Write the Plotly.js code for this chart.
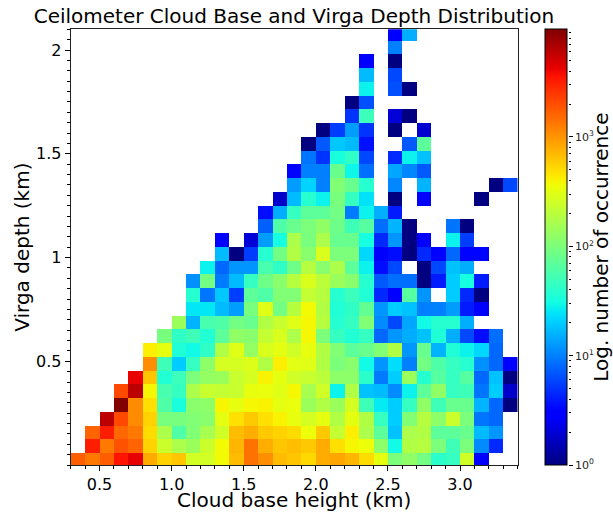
<!DOCTYPE html>
<html><head><meta charset="utf-8">
<script src="https://cdn.plot.ly/plotly-3.0.1.min.js"></script>
<style>html,body{margin:0;padding:0;background:#fff}</style></head>
<body><div id="chart" style="width:613px;height:512px"></div>
<script>
const _ = null;
const cloudBaseEdges = [0.3,0.4,0.5,0.6,0.7,0.8,0.9,1.0,1.1,1.2,1.3,1.4,1.5,1.6,1.7,1.8,1.9,2.0,2.1,2.2,2.3,2.4,2.5,2.6,2.7,2.8,2.9,3.0,3.1,3.2,3.3,3.4];
const virgaDepthEdges = [-0.0096,0.0567,0.123,0.1893,0.2556,0.3219,0.3882,0.4545,0.5208,0.5871,0.6534,0.7197,0.786,0.8523,0.9186,0.9849,1.0512,1.1175,1.1838,1.2501,1.3164,1.3827,1.449,1.5153,1.5816,1.6479,1.7142,1.7805,1.8468,1.9131,1.9794,2.0457,2.112];
const xTickVals = [0.5,1,1.5,2,2.5,3];
const xTickText = ["0.5","1.0","1.5","2.0","2.5","3.0"];
const yTickVals = [0.5,1,1.5,2];
const yTickText = ["0.5","1","1.5","2"];
const cbTickVals = [1,10,100,1000];
const cbTickText = ["10<sup>0</sup>","10<sup>1</sup>","10<sup>2</sup>","10<sup>3</sup>"];
const cbMinorVals = [2,3,4,5,6,7,8,9,20,30,40,50,60,70,80,90,200,300,400,500,600,700,800,900,2000,3000,4000,5000,6000,7000,8000,9000];
// counts per row, bottom row first; each row has one value per cloud-base bin
const counts = [
[1700,1300,1700,3500,4300,800,550,620,260,260,370,680,1400,1050,680,620,520,800,850,720,500,320,100,125,90,40,45,250,2.8,_,_],
[_,3200,1300,1900,1600,550,240,170,140,240,370,720,1400,780,620,660,600,800,480,380,350,120,30,180,190,100,50,100,11,4.5,_],
[_,1600,3200,1550,1300,500,170,60,105,160,250,680,780,600,550,500,350,600,220,420,170,70,18,170,180,70,70,80,17,12,_],
[_,_,6000,2100,1100,550,95,95,105,115,320,480,600,480,400,330,270,320,180,320,180,45,20,105,190,120,240,100,9,8,_],
[_,_,_,9600,1100,480,60,33,115,120,390,330,380,400,320,340,140,180,140,270,50,26,20,45,125,50,80,80,16,8,1],
[_,_,_,2100,6000,380,55,45,170,230,220,230,330,340,300,380,160,250,28,180,18,17,11,28,70,125,45,50,9,20,1.8],
[_,_,_,_,4200,620,36,48,100,130,140,230,270,400,320,250,230,200,120,120,40,9.5,20,140,38,65,45,65,8,18,1],
[_,_,_,_,_,1050,50,20,45,120,270,270,290,180,420,310,300,180,100,115,30,12,23,10,90,60,45,38,11.5,8,2.8],
[_,_,_,_,_,410,320,35,30,42,180,300,130,280,320,250,330,180,105,70,80,105,180,12,80,16,35,28,22,8,_],
[_,_,_,_,_,_,95,42,50,36,70,125,115,220,280,170,380,100,45,36,45,8,12,15,18,35,15,6,3.5,8.5,_],
[_,_,_,_,_,_,_,140,16,55,60,90,80,180,230,300,380,190,38,45,105,11,6,14,30,38,38,15,_,_,_],
[_,_,_,_,_,_,_,_,25,25,17,13,95,300,90,190,370,180,36,42,75,12,20,18,10,10,13,4,2.8,_,_],
[_,_,_,_,_,_,_,_,38,9,19,5.5,70,60,105,105,220,190,38,48,36,4.5,3,65,12,_,20,4.5,1,_,_],
[_,_,_,_,_,_,_,_,11.5,90,9.5,17,45,85,115,190,280,200,140,115,38,7,8.5,8.5,1,4,20,32,4,_,_],
[_,_,_,_,_,_,_,_,_,28,8,12,12,55,42,85,190,115,170,70,28,3.5,6,_,1,6,18,15,_,_,_],
[_,_,_,_,_,_,_,_,_,_,17,1,5.5,38,90,180,115,280,100,100,22,2.8,3.5,1,4.5,3.2,8,3.2,3.2,_,_],
[_,_,_,_,_,_,_,_,_,_,2.8,_,2,13,32,170,95,170,80,80,32,4.5,12,1,2.8,_,28,5.5,_,_,_],
[_,_,_,_,_,_,_,_,_,_,_,_,_,7.5,60,80,100,125,85,50,65,8.5,16,1,_,_,9,1,_,_,_],
[_,_,_,_,_,_,_,_,_,_,_,_,_,3.5,15,45,70,70,90,9.5,28,15,4,_,_,_,_,_,_,_,_],
[_,_,_,_,_,_,_,_,_,_,_,_,_,_,1.8,17,38,28,95,45,24,_,1,_,2.8,_,_,_,1,_,_],
[_,_,_,_,_,_,_,_,_,_,_,_,_,_,_,13,21,10,105,80,38,_,10.5,_,16,_,_,_,_,1,6],
[_,_,_,_,_,_,_,_,_,_,_,_,_,_,_,2.8,10,10,80,29,8.5,_,14,10.5,7,_,_,_,_,_,_],
[_,_,_,_,_,_,_,_,_,_,_,_,_,_,_,_,9,5,33,42,6,_,4.5,28,18,_,_,_,_,_,_],
[_,_,_,_,_,_,_,_,_,_,_,_,_,_,_,_,1,7,19,17,3.6,_,_,7,70,_,_,_,_,_,_],
[_,_,_,_,_,_,_,_,_,_,_,_,_,_,_,_,_,1,5.5,13,5,_,1,_,1.9,_,_,_,_,_,_],
[_,_,_,_,_,_,_,_,_,_,_,_,_,_,_,_,_,_,_,5,48,_,2,1,_,_,_,_,_,_,_],
[_,_,_,_,_,_,_,_,_,_,_,_,_,_,_,_,_,_,_,1,6.5,_,_,_,_,_,_,_,_,_,_],
[_,_,_,_,_,_,_,_,_,_,_,_,_,_,_,_,_,_,_,_,28,_,6.5,1,_,_,_,_,_,_,_],
[_,_,_,_,_,_,_,_,_,_,_,_,_,_,_,_,_,_,_,_,17,_,6,_,_,_,_,_,_,_,_],
[_,_,_,_,_,_,_,_,_,_,_,_,_,_,_,_,_,_,_,_,2.8,_,1,_,_,_,_,_,_,_,_],
[_,_,_,_,_,_,_,_,_,_,_,_,_,_,_,_,_,_,_,_,_,_,10,_,_,_,_,_,_,_,_],
[_,_,_,_,_,_,_,_,_,_,_,_,_,_,_,_,_,_,_,_,_,_,2.8,15,_,_,_,_,_,_,_]
];
const jet = [[0,'rgb(0,0,128)'],[0.11,'rgb(0,0,255)'],[0.125,'rgb(0,0,255)'],[0.34,'rgb(0,219,255)'],[0.35,'rgb(0,230,247)'],[0.375,'rgb(20,255,226)'],[0.64,'rgb(238,255,8)'],[0.65,'rgb(247,245,0)'],[0.66,'rgb(255,236,0)'],[0.89,'rgb(255,19,0)'],[0.91,'rgb(232,0,0)'],[1,'rgb(128,0,0)']];

const L=70.7,R=517.7,T=29.3,B=465,W=613,H=512,FONT='"DejaVu Sans"';
const yDom=[(H-B)/H,(H-T)/H];
const logMax=3.985;
const logCounts=counts.map(r=>r.map(v=>v===null?null:Math.log10(v)));

const data=[
 {type:'heatmap',x:cloudBaseEdges,y:virgaDepthEdges,z:logCounts,zmin:0,zmax:logMax,colorscale:jet,zsmooth:false,hoverongaps:false,
  colorbar:{x:545.3/W,xanchor:'left',xref:'paper',y:yDom[0],yanchor:'bottom',yref:'paper',lenmode:'fraction',len:yDom[1]-yDom[0],
   thicknessmode:'pixels',thickness:22.4,xpad:0,ypad:0,outlinecolor:'#000',outlinewidth:1,ticks:'',showticklabels:false,borderwidth:0}},
 {type:'scatter',x:[null],y:[null],yaxis:'y2',mode:'markers',showlegend:false,hoverinfo:'skip'}
];
const layout={
 width:W,height:H,margin:{l:0,r:0,t:0,b:0,pad:0},paper_bgcolor:'#fff',plot_bgcolor:'#fff',showlegend:false,
 font:{family:FONT,color:'#000'},
 title:{text:'Ceilometer Cloud Base and Virga Depth Distribution',font:{family:FONT,size:20,color:'#000'},x:294/W,xanchor:'center',xref:'paper',y:1-16/H,yanchor:'middle',yref:'paper'},
 xaxis:{domain:[L/W,R/W],range:[0.3,3.4],tickmode:'array',tickvals:xTickVals,ticktext:xTickText,ticks:'outside',ticklen:5,tickwidth:1,tickcolor:'#000',
  tickfont:{family:FONT,size:16,color:'#000'},showgrid:false,zeroline:false,showline:true,linecolor:'#222',linewidth:1,mirror:true,
  minor:{ticks:'outside',ticklen:3,tickwidth:1,tickcolor:'#000',tickmode:'linear',tick0:0.3,dtick:0.1,showgrid:false},
  title:{text:'Cloud base height (km)',font:{family:FONT,size:20,color:'#000'},standoff:3},automargin:false},
 yaxis:{domain:yDom,range:[0,2.1],tickmode:'array',tickvals:yTickVals,ticktext:yTickText,ticks:'outside',ticklen:5,tickwidth:1,tickcolor:'#000',
  tickfont:{family:FONT,size:16,color:'#000'},showgrid:false,zeroline:false,showline:true,linecolor:'#222',linewidth:1,mirror:true,
  minor:{ticks:'outside',ticklen:3,tickwidth:1,tickcolor:'#000',tickmode:'linear',tick0:0,dtick:0.05,showgrid:false},
  title:{text:'Virga depth (km)',font:{family:FONT,size:20,color:'#000'},standoff:1},automargin:false},
 yaxis2:{domain:yDom,type:'log',range:[0,logMax],overlaying:'y',side:'right',anchor:'free',position:567.7/W,tickmode:'array',tickvals:cbTickVals,ticktext:cbTickText,
  ticks:'outside',ticklen:4,tickwidth:1,tickcolor:'#000',tickfont:{family:FONT,size:11,color:'#222'},showgrid:false,zeroline:false,showline:false,
  minor:{ticks:'outside',ticklen:2,tickwidth:1,tickcolor:'#000',tickmode:'array',tickvals:cbMinorVals,showgrid:false},
  title:{text:'Log. number of occurrence',font:{family:FONT,size:20,color:'#000'},standoff:5},automargin:false}
};
Plotly.newPlot('chart',data,layout,{displayModeBar:false,responsive:false});
</script></body></html>
